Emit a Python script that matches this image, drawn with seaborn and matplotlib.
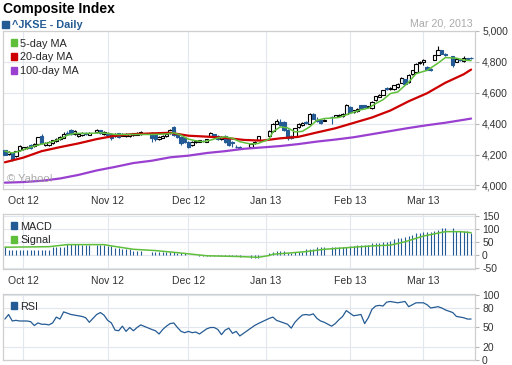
import numpy as np
import pandas as pd
import seaborn as sns
import matplotlib.pyplot as plt
from matplotlib.patches import Patch, Rectangle

# daily candles, one value per weekday Sep 24 2012 .. Mar 20 2013 (None = market closed)
opens = [4227, 4205, 4207, 4190, 4229,
         4238, 4240, 4263, 4255, 4268, 4320, 4265, 4262, 4272, 4285, 4298, 4310, 4340, 4362, 4332,
         4318, 4325, 4342, 4328, None, 4345, 4358, 4332,
         4340, 4335, 4320, 4338, 4322, 4320, 4318, 4325, 4328, 4332, None, None,
         4341, 4326, 4298, 4310, 4320, 4341, 4379, 4332, 4315, 4304,
         4283, 4261, 4280, 4283, 4290, 4283, 4320, 4332, 4320, 4298, 4320, 4298, 4283, 4252, 4250,
         None, None, 4252, 4272, 4297, None,
         None, 4318, 4353, 4401, 4412, 4412, 4362, 4320, 4315, 4379, 4390, 4410, 4400, 4465,
         4424, 4425, 4420, None, 4445, 4445, 4450, 4450, 4465,
         4510, 4476, 4480, 4520, 4520, 4505, 4500, 4551, 4575, 4588, 4630, 4622, 4623, 4635, 4666,
         4686, 4670, 4720, 4735, 4790,
         4797, 4770, 4755, 4814, 4846, 4874, 4848, None, 4835, 4800, 4815, 4805, 4822, 4828]
closes = [4200, 4215, 4170, 4222, 4255,
          4248, 4252, 4242, 4270, 4311, 4272, 4275, 4283, 4293, 4300, 4313, 4330, 4334, 4332, 4352,
          4334, 4340, 4330, 4342, None, 4360, 4338, 4345,
          4325, 4310, 4335, 4315, 4336, 4335, 4330, 4338, 4340, 4347, None, None,
          4304, 4298, 4315, 4320, 4332, 4362, 4326, 4311, 4272, 4283,
          4250, 4283, 4288, 4293, 4285, 4298, 4341, 4315, 4298, 4315, 4283, 4261, 4272, 4248, 4240,
          None, None, 4268, 4282, 4318, None,
          None, 4353, 4400, 4416, 4390, 4358, 4310, 4304, 4370, 4400, 4407, 4405, 4465, 4433,
          4420, 4405, 4426, None, 4440, 4455, 4458, 4465, 4520,
          4476, 4486, 4495, 4500, 4505, 4512, 4541, 4577, 4585, 4616, 4625, 4632, 4649, 4660, 4696,
          4660, 4717, 4745, 4788, 4800,
          4812, 4749, 4748, 4842, 4874, 4853, 4843, None, 4780, 4820, 4810, 4822, 4818, 4825]
highs = [4232, 4220, 4210, 4226, 4260,
         4252, 4256, 4268, 4274, 4315, 4330, 4280, 4287, 4296, 4304, 4318, 4345, 4352, 4366, 4356,
         4338, 4344, 4346, 4346, None, 4364, 4362, 4350,
         4344, 4338, 4340, 4342, 4340, 4339, 4334, 4342, 4344, 4352, None, None,
         4345, 4330, 4318, 4324, 4336, 4366, 4385, 4336, 4318, 4308,
         4288, 4287, 4292, 4297, 4295, 4302, 4345, 4336, 4324, 4319, 4324, 4302, 4287, 4262, 4255,
         None, None, 4272, 4286, 4322, None,
         None, 4357, 4404, 4427, 4433, 4416, 4366, 4324, 4374, 4404, 4411, 4418, 4469, 4469,
         4440, 4429, 4432, None, 4449, 4459, 4462, 4469, 4527,
         4514, 4490, 4499, 4524, 4524, 4516, 4545, 4581, 4589, 4620, 4636, 4636, 4653, 4664, 4700,
         4690, 4721, 4749, 4792, 4804,
         4820, 4774, 4759, 4846, 4900, 4878, 4858, None, 4840, 4824, 4819, 4838, 4826, 4834]
lows = [4195, 4198, 4160, 4186, 4225,
        4232, 4236, 4238, 4250, 4265, 4268, 4258, 4258, 4268, 4280, 4294, 4306, 4330, 4328, 4328,
        4314, 4320, 4326, 4324, None, 4340, 4334, 4328,
        4320, 4296, 4316, 4310, 4318, 4316, 4314, 4320, 4324, 4328, None, None,
        4283, 4290, 4294, 4306, 4316, 4336, 4322, 4306, 4261, 4278,
        4240, 4256, 4275, 4279, 4280, 4279, 4316, 4310, 4294, 4294, 4278, 4255, 4250, 4240, 4235,
        None, None, 4248, 4268, 4293, None,
        None, 4314, 4349, 4397, 4386, 4354, 4297, 4300, 4311, 4375, 4386, 4400, 4396, 4429,
        4410, 4401, 4416, None, 4400, 4441, 4446, 4446, 4461,
        4472, 4472, 4476, 4496, 4501, 4501, 4496, 4547, 4571, 4584, 4620, 4618, 4619, 4631, 4662,
        4656, 4666, 4716, 4731, 4786,
        4778, 4745, 4744, 4810, 4842, 4849, 4838, None, 4768, 4796, 4806, 4801, 4814, 4821]

macd = [29, 19, 19, 19, 19,
        19, 19, 19, 19, 19, 19, 19, 19, 32, 32, 32, 32, 41, 41, 41,
        41, 38, 38, 38, None, 38, 38, 38,
        36, 36, 28, 28, 22, 22, 22, 17, 17, 17, None, None,
        10, 10, 10, 10, 10, 12, 10, 9, 6, 6,
        1, 1, 1, -4, -4, -4, -4, -4, -4, -4, -3, -3, -3, -3, -9,
        None, None, -12, -13, -12, None,
        None, 7, 12, 17, 14, 17, 9, 9, 13, 13, 13, 22, 22, 22,
        29, 29, 29, None, 29, 29, 29, 29, 29,
        36, 36, 38, 38, 38, 38, 45, 45, 45, 51, 51, 55, 60, 64, 66,
        70, 72, 77, 86, 86,
        90, 90, 90, 93, 96, 103, 103, None, 103, 94, 93, 92, 91, 86]

rsi = [63, 70, 60, 61, 60,
       60, 60, 59, 53, 57, 55, 55, 54, 57, 66, 63, 74, 72, 70, 69,
       68, 67, 65, 58, None, 70, 73, 69,
       61, 57, 46, 45, 52, 44, 50, 45, 50, 54, None, None,
       47, 45, 40, 47, 52, 56, 57, 50, 44, 42,
       44, 42, 43, 40, 44, 48, 50, 50, 47, 39, 46, 49, 41, 44, 37,
       None, None, 49, 53, 56, None,
       None, 64, 66, 61, 59, 57, 55, 49, 58, 64, 69, 70, 69, 71,
       64, 60, 58, None, 52, 56, 62, 67, 76,
       72, 68, 69, 70, 56, 65, 78, 83, 84, 83, 89, 90, 89, 88, 89,
       90, 82, 85, 88, 88,
       88, 85, 80, 81, 82, 80, 77, None, 73, 67, 66, 65, 63, 63]

# moving averages
ma5_dates = ["2012-09-24", "2012-09-26", "2012-09-28", "2012-10-03", "2012-10-08", "2012-10-10",
             "2012-10-15", "2012-10-17", "2012-10-19", "2012-10-25", "2012-10-30", "2012-11-01",
             "2012-11-05", "2012-11-12", "2012-11-19", "2012-11-23", "2012-11-27", "2012-11-29",
             "2012-12-03", "2012-12-05", "2012-12-07", "2012-12-11", "2012-12-13", "2012-12-17",
             "2012-12-19", "2012-12-21", "2012-12-26", "2012-12-28", "2013-01-02", "2013-01-03",
             "2013-01-07", "2013-01-09", "2013-01-11", "2013-01-15", "2013-01-17", "2013-01-21",
             "2013-01-23", "2013-01-29", "2013-02-01", "2013-02-06", "2013-02-08", "2013-02-12",
             "2013-02-14", "2013-02-18", "2013-02-20", "2013-02-25", "2013-02-27", "2013-03-04",
             "2013-03-07", "2013-03-11", "2013-03-14", "2013-03-18", "2013-03-20"]
ma5 = [4222, 4210, 4222, 4248, 4268, 4276,
       4300, 4325, 4337, 4337, 4341, 4337,
       4330, 4330, 4330, 4333, 4341, 4325,
       4300, 4289, 4283, 4293, 4308, 4315,
       4305, 4283, 4268, 4272, 4300, 4347,
       4379, 4373, 4347, 4350, 4379, 4422,
       4433, 4440, 4466, 4490, 4500, 4530,
       4555, 4595, 4605, 4669, 4724, 4745,
       4792, 4828, 4824, 4812, 4808]

week_dates = ["2012-09-24", "2012-10-01", "2012-10-08", "2012-10-15", "2012-10-22", "2012-10-29",
              "2012-11-05", "2012-11-12", "2012-11-19", "2012-11-26", "2012-12-03", "2012-12-10",
              "2012-12-17", "2012-12-24", "2012-12-31", "2013-01-07", "2013-01-14", "2013-01-21",
              "2013-01-28", "2013-02-04", "2013-02-11", "2013-02-18", "2013-02-25", "2013-03-04",
              "2013-03-11", "2013-03-18", "2013-03-20"]
ma20 = [4150, 4180, 4222, 4248, 4272, 4300, 4322, 4332, 4337, 4341, 4322, 4316, 4308, 4295,
        4290, 4305, 4315, 4343, 4370, 4405, 4440, 4485, 4545, 4597, 4665, 4720, 4750]
ma100 = [4018, 4022, 4030, 4045, 4068, 4097, 4120, 4145, 4160, 4182, 4193, 4210, 4222, 4237,
         4246, 4255, 4268, 4284, 4297, 4312, 4332, 4352, 4372, 4390, 4406, 4425, 4433]

sig_dates = ["2012-09-24", "2012-10-10", "2012-10-17", "2012-10-31", "2012-11-02", "2012-11-12",
             "2012-11-20", "2012-11-28", "2012-12-04", "2012-12-10", "2012-12-21", "2012-12-28",
             "2013-01-02", "2013-01-03", "2013-01-08", "2013-01-16", "2013-01-23", "2013-02-01",
             "2013-02-11", "2013-02-18", "2013-02-22", "2013-03-01", "2013-03-11", "2013-03-15",
             "2013-03-20"]
signal = [30, 32, 40, 40, 35, 22, 17, 9, 3, -3, -6, -9, -2, 3, 6, 13, 22, 29, 35, 38, 51, 73,
          90, 90, 86]

month_dates = ["2012-10-01", "2012-11-01", "2012-12-03", "2013-01-01", "2013-02-01", "2013-03-01"]
month_labels = ["Oct 12", "Nov 12", "Dec 12", "Jan 13", "Feb 13", "Mar 13"]

blue = "#245b94"
green = "#5fbf3a"
red = "#cc0000"
purple = "#9a40d0"

days = pd.bdate_range("2012-09-24", "2013-03-20")
df = pd.DataFrame({"open": opens, "high": highs, "low": lows, "close": closes,
                   "macd": macd, "rsi": rsi}, index=days, dtype=float)
df["x"] = np.arange(len(df))
pos = lambda d: days.get_indexer(pd.to_datetime(d))

sns.set_theme(style="white")
plt.rcParams["font.family"] = ["Liberation Sans", "DejaVu Sans"]

fig = plt.figure(figsize=(5.12, 3.65), dpi=100)
ax1 = fig.add_axes([0.006, 0.4822, 0.922, 0.4329])
ax2 = fig.add_axes([0.006, 0.2630, 0.922, 0.1507])
ax3 = fig.add_axes([0.006, 0.0137, 0.922, 0.1808])


def style(ax, ticks, labels):
    ax.set_xlim(-0.5, 128.1)
    ax.yaxis.tick_right()
    ax.set_yticks(ticks)
    ax.set_yticklabels(labels)
    ax.set_xticks(pos(month_dates))
    ax.set_xticklabels(month_labels)
    ax.tick_params(axis="y", length=3, width=0.8, color="#b8b8b8", pad=2,
                   labelsize=7.5, labelcolor="#333333")
    ax.tick_params(axis="x", length=0, pad=5, labelsize=7.5, labelcolor="#333333")
    ax.grid(True, color="#e2e6ee", lw=0.8)
    ax.set_axisbelow(True)
    for s in ax.spines.values():
        s.set_color("#cfcfcf")
        s.set_linewidth(0.9)
    ax.set_xlabel("")
    ax.set_ylabel("")


# main panel: candles + moving averages
c = df.dropna()
up = c[c.close >= c.open]
dn = c[c.close < c.open]
ax1.vlines(up.x, up.low, up.high, color="black", lw=0.8, zorder=2)
ax1.bar(up.x, up.close - up.open, bottom=up.open, width=0.9, facecolor="white",
        edgecolor="black", lw=0.8, zorder=3)
ax1.vlines(dn.x, dn.low, dn.high, color=blue, lw=0.8, zorder=2)
ax1.bar(dn.x, dn.open - dn.close, bottom=dn.close, width=0.9, color=blue,
        edgecolor=blue, lw=0.8, zorder=3)
sns.lineplot(x=pos(week_dates), y=ma100, ax=ax1, color=purple, lw=1.6, legend=False, zorder=4)
sns.lineplot(x=pos(week_dates), y=ma20, ax=ax1, color=red, lw=1.6, legend=False, zorder=4)
sns.lineplot(x=pos(ma5_dates), y=ma5, ax=ax1, color=green, lw=1.1, legend=False, zorder=5)
ax1.set_ylim(3977, 5000)
style(ax1, [4000, 4200, 4400, 4600, 4800, 5000], ["4,000", "4,200", "4,400", "4,600", "4,800", "5,000"])
ax1.legend(handles=[Patch(color=green, label="5-day MA"), Patch(color=red, label="20-day MA"),
                    Patch(color=purple, label="100-day MA")],
           loc="upper left", frameon=False, fontsize=7.8, handlelength=0.6, handleheight=0.6,
           handletextpad=0.3, labelspacing=0.35, borderaxespad=0.25, borderpad=0.45)
ax1.text(0.008, 0.03, "\u00a9 Yahoo!", transform=ax1.transAxes, color="#9a9a9a",
         fontsize=8, va="bottom", ha="left", alpha=0.85, zorder=6)

# MACD panel
m = df.dropna(subset=["macd"])
ax2.vlines(m.x, 0, m.macd, color=blue, lw=0.8, zorder=2)
sns.lineplot(x=pos(sig_dates), y=signal, ax=ax2, color=green, lw=1.1, legend=False, zorder=3)
ax2.set_ylim(-54, 158)
style(ax2, [-50, 0, 50, 100, 150], ["-50", "0", "50", "100", "150"])
ax2.legend(handles=[Patch(color=blue, label="MACD"), Patch(color=green, label="Signal")],
           loc="upper left", frameon=False, fontsize=7.8, handlelength=0.6, handleheight=0.6,
           handletextpad=0.3, labelspacing=0.35, borderaxespad=0.25, borderpad=0.45)

# RSI panel
r = df.dropna(subset=["rsi"])
sns.lineplot(x=r.x.values, y=r.rsi.values, ax=ax3, color=blue, lw=0.9, legend=False)
ax3.set_ylim(0, 101.5)
style(ax3, [0, 20, 50, 80, 100], ["0", "20", "50", "80", "100"])
ax3.tick_params(axis="x", labelbottom=False)
ax3.legend(handles=[Patch(color=blue, label="RSI")],
           loc="upper left", frameon=False, fontsize=7.8, handlelength=0.6, handleheight=0.6,
           handletextpad=0.3, borderaxespad=0.25, borderpad=0.45)

# header
fig.text(3 / 512, 1 - 9 / 365, "Composite Index", fontsize=10, fontweight="bold",
         color="black", va="center", ha="left")
fig.add_artist(Rectangle((2 / 512, 1 - 28 / 365), 7 / 512, 7 / 365,
                         transform=fig.transFigure, color=blue))
fig.text(12 / 512, 1 - 24.5 / 365, "^JKSE - Daily", fontsize=7.8, fontweight="bold",
         color=blue, va="center", ha="left")
fig.text(473 / 512, 1 - 24 / 365, "Mar 20, 2013", fontsize=7.7, color="#aaaaaa",
         va="center", ha="right")

fig.savefig("out.png", dpi=100, facecolor="white")
